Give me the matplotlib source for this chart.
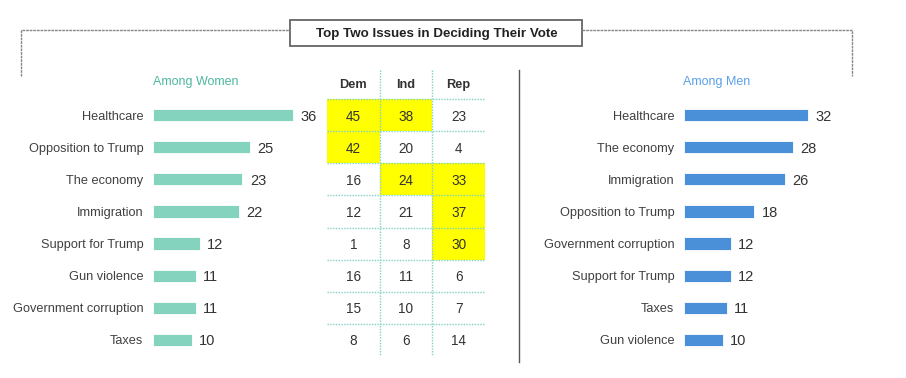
import matplotlib
matplotlib.use("Agg")
import matplotlib.pyplot as plt
from matplotlib.patches import Rectangle

plt.rcParams['font.family'] = ['Liberation Sans', 'DejaVu Sans']

# data
women_issues = ["Healthcare", "Opposition to Trump", "The economy", "Immigration",
                "Support for Trump", "Gun violence", "Government corruption", "Taxes"]
women_values = [36, 25, 23, 22, 12, 11, 11, 10]

men_issues = ["Healthcare", "The economy", "Immigration", "Opposition to Trump",
              "Government corruption", "Support for Trump", "Taxes", "Gun violence"]
men_values = [32, 28, 26, 18, 12, 12, 11, 10]

parties = ["Dem", "Ind", "Rep"]
dem = [45, 42, 16, 12, 1, 16, 15, 8]
ind = [38, 20, 24, 21, 8, 11, 10, 6]
rep = [23, 4, 33, 37, 30, 6, 7, 14]
# (row, column) cells shaded yellow
highlight = [(0, 0), (0, 1), (1, 0), (2, 1), (2, 2), (3, 2), (4, 2)]

W, H = 906, 378
TEXT = "#404040"
WOMEN_C = "#84D3BF"
MEN_C = "#4A90D9"
DOT_C = "#7FD3C3"


def fx(px):
    return px / W


def fy(py):
    return 1 - py / H


fig = plt.figure(figsize=(W / 100, H / 100), dpi=100)

# overlay axes in pixel coordinates for frame decorations
deco = fig.add_axes([0, 0, 1, 1])
deco.set_xlim(0, W)
deco.set_ylim(H, 0)
deco.axis("off")

gray = "#888888"
deco.plot([21, 21, 290], [76, 30, 30], color=gray, lw=1.0, ls=(0, (2, 0.6)))
deco.plot([582, 852, 852], [30, 30, 76], color=gray, lw=1.0, ls=(0, (2, 0.6)))
deco.add_patch(Rectangle((290, 20), 292, 26, fill=False, edgecolor="#666666", lw=1.3))
deco.text(437, 33.5, "Top Two Issues in Deciding Their Vote", ha="center", va="center",
          fontsize=9.6, fontweight="bold", color="#222222",
          family=["Liberation Sans Narrow", "Liberation Sans", "DejaVu Sans"])
deco.plot([519, 519], [70, 362], color="#555555", lw=1.0)
deco.text(196, 82, "Among Women", ha="center", va="center", fontsize=9,
          color="#4DB89E", family=["Liberation Sans Narrow", "Liberation Sans"])
deco.text(717, 82, "Among Men", ha="center", va="center", fontsize=9,
          color="#5AA0E8", family=["Liberation Sans Narrow", "Liberation Sans"])

row_top, row_bot = 99, 356
px_per_unit = 140 / 36


def bar_panel(left_px, issues, values, color):
    width_px = 180
    ax = fig.add_axes([fx(left_px), fy(row_bot), fx(width_px), (row_bot - row_top) / H])
    ax.set_xlim(0, width_px / px_per_unit)
    ax.set_ylim(len(values) - 0.5, -0.5)
    rows = list(range(len(values)))
    ax.barh(rows, values, height=0.38, color=color, edgecolor="white", lw=0.6)
    for r, v in zip(rows, values):
        ax.text(v + 1.9, r, str(v), ha="left", va="center_baseline", fontsize=10.5, color="#333333")
    ax.set_yticks(rows)
    ax.set_yticklabels(issues, fontsize=9.2, color=TEXT)
    ax.tick_params(axis="y", length=0, pad=7)
    ax.set_xticks([])
    for s in ax.spines.values():
        s.set_visible(False)
    ax.patch.set_alpha(0)
    return ax


bar_panel(153, women_issues, women_values, WOMEN_C)
bar_panel(684, men_issues, men_values, MEN_C)

# party table
tleft, tright, ttop = 327, 485, 70
tab = fig.add_axes([fx(tleft), fy(row_bot), (tright - tleft) / W, (row_bot - ttop) / H])
tab.set_xlim(-0.5, 2.5)
unit = (row_bot - row_top) / 8
tab.set_ylim(7.5, -0.5 - (row_top - ttop) / unit)
tab.axis("off")

cols = [dem, ind, rep]
for (r, c) in highlight:
    tab.add_patch(Rectangle((c - 0.5, r - 0.5), 1, 1, facecolor="#FFFF00", edgecolor="none", zorder=0))
for r in range(len(dem)):
    tab.plot([-0.5, 2.5], [r - 0.5, r - 0.5], color=DOT_C, lw=1.0, ls=(0, (1, 1)), zorder=1)
for c in [0.5, 1.5]:
    tab.plot([c, c], [tab.get_ylim()[1], 7.5], color=DOT_C, lw=1.0, ls=(0, (1, 1)), zorder=1)
for c, (name, vals) in enumerate(zip(parties, cols)):
    tab.text(c, -0.95, name, ha="center", va="center", fontsize=9.2, fontweight="bold", color="#333333")
    for r, v in enumerate(vals):
        tab.text(c, r, str(v), ha="center", va="center_baseline", fontsize=9.8, color="#333333", zorder=2)

fig.savefig("out.png", dpi=100)
